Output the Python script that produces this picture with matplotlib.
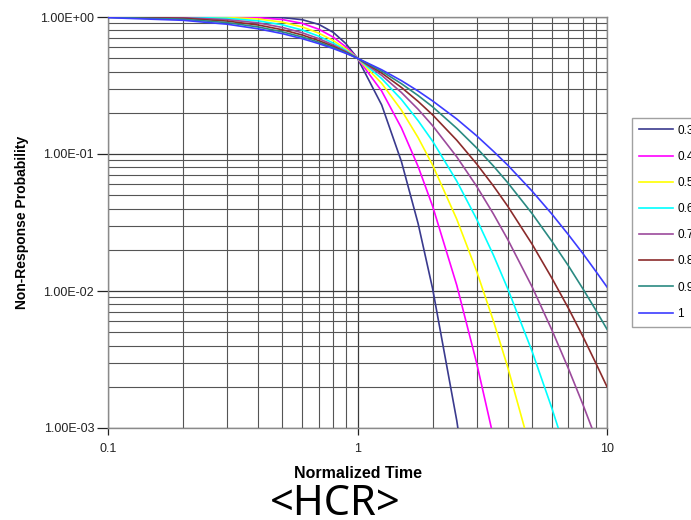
import numpy as np
import matplotlib
matplotlib.use("Agg")
import matplotlib.pyplot as plt
from matplotlib.ticker import FixedLocator, FixedFormatter, NullFormatter

# ---- data ----
t = [0.1, 0.2, 0.3, 0.4, 0.5, 0.6, 0.7, 0.8, 0.9, 1.0, 1.25, 1.5, 1.75,
     2.0, 2.5, 3.0, 3.5, 4.0, 5.0, 6.0, 7.0, 8.0, 9.0, 10.0]
nan = float("nan")
p_03 = [1.0, 1.0, 1.0, 0.999, 0.990, 0.956, 0.883, 0.772, 0.637, 0.5, 0.228, 0.088, 0.031,
        0.0104, 0.00113, 0.00012, nan, nan, nan, nan, nan, nan, nan, nan]
p_04 = [1.0, 1.0, 0.9987, 0.989, 0.958, 0.899, 0.814, 0.712, 0.604, 0.5, 0.288, 0.155, 0.081,
        0.0416, 0.011, 0.0030, 0.00087, 0.00026, nan, nan, nan, nan, nan, nan]
p_05 = [1.0, 0.9994, 0.992, 0.967, 0.917, 0.847, 0.762, 0.672, 0.584, 0.5, 0.328, 0.209, 0.1316,
        0.083, 0.0334, 0.0140, 0.0061, 0.00278, 0.00064, nan, nan, nan, nan, nan]
p_06 = [1.0, 0.996, 0.978, 0.937, 0.876, 0.803, 0.724, 0.645, 0.570, 0.5, 0.355, 0.250, 0.175,
        0.124, 0.0634, 0.0336, 0.0184, 0.0104, 0.00366, 0.00141, 0.00059, nan, nan, nan]
p_07 = [0.9995, 0.989, 0.957, 0.905, 0.839, 0.767, 0.695, 0.625, 0.560, 0.5, 0.375, 0.281, 0.212,
        0.161, 0.0953, 0.0583, 0.0367, 0.0238, 0.0108, 0.00524, 0.00272, 0.00149, 0.00085, 0.0005]
p_08 = [0.998, 0.978, 0.934, 0.874, 0.807, 0.739, 0.672, 0.610, 0.552, 0.5, 0.390, 0.306, 0.242,
        0.193, 0.126, 0.0849, 0.0587, 0.0416, 0.0221, 0.0125, 0.0075, 0.00467, 0.0030, 0.0020]
p_09 = [0.995, 0.963, 0.910, 0.846, 0.779, 0.715, 0.654, 0.598, 0.547, 0.5, 0.402, 0.326, 0.267,
        0.221, 0.154, 0.111, 0.082, 0.0618, 0.0369, 0.0232, 0.0153, 0.0104, 0.0073, 0.00526]
p_10 = [0.989, 0.946, 0.886, 0.820, 0.756, 0.695, 0.639, 0.588, 0.542, 0.5, 0.412, 0.343, 0.288,
        0.244, 0.180, 0.136, 0.105, 0.083, 0.0538, 0.0366, 0.0258, 0.0188, 0.0140, 0.0107]

series = [p_03, p_04, p_05, p_06, p_07, p_08, p_09, p_10]
labels = ["0.3", "0.4", "0.5", "0.6", "0.7", "0.8", "0.9", "1"]
colors = ["#3a3a8e", "#ff00ff", "#ffff00", "#00ffff", "#9c4a9c", "#8b2b2b", "#2a8a82", "#3c3cff"]

y_ticks = [1e-3, 1e-2, 1e-1, 1.0]
y_tick_labels = ["1.00E-03", "1.00E-02", "1.00E-01", "1.00E+00"]
x_ticks = [0.1, 1, 10]
x_tick_labels = ["0.1", "1", "10"]

# ---- figure ----
plt.rcParams["font.family"] = ["Liberation Sans", "DejaVu Sans"]
fig = plt.figure(figsize=(6.91, 5.20), dpi=100)
ax = fig.add_axes([108 / 691, 1 - 428 / 520, (607 - 108) / 691, (428 - 17) / 520])

for vals, lab, col in zip(series, labels, colors):
    ax.plot(t, vals, color=col, lw=1.2, label=lab, zorder=3)

ax.set_xscale("log")
ax.set_yscale("log")
ax.set_xlim(0.1, 10)
ax.set_ylim(1e-3, 1.0)

ax.yaxis.set_major_locator(FixedLocator(y_ticks))
ax.yaxis.set_major_formatter(FixedFormatter(y_tick_labels))
ax.xaxis.set_major_locator(FixedLocator(x_ticks))
ax.xaxis.set_major_formatter(FixedFormatter(x_tick_labels))
ax.yaxis.set_minor_formatter(NullFormatter())
ax.xaxis.set_minor_formatter(NullFormatter())

ax.grid(True, which="major", color="#3a3a3a", lw=0.9, zorder=1)
ax.grid(True, which="minor", color="#555555", lw=0.8, zorder=1)

ax.tick_params(axis="both", which="major", labelsize=9, colors="#222222",
               length=5, width=0.9, direction="out")
ax.tick_params(axis="y", which="major", length=8, pad=2)
ax.tick_params(axis="x", which="major", pad=6)
ax.tick_params(axis="both", which="minor", length=0)
for side in ["left", "bottom", "top", "right"]:
    ax.spines[side].set_color("#8a8a8a")
    ax.spines[side].set_linewidth(1.0)

ax.set_xlabel("Normalized Time", fontsize=11.5, fontweight="bold", labelpad=8)
ax.set_ylabel("Non-Response Probability", fontsize=10, fontweight="bold", labelpad=8)

fig.text(335 / 691, 1 - 515 / 520, "<HCR>", fontsize=30, family=["Noto Sans", "DejaVu Sans"],
         ha="center", va="baseline", color="black")

leg = fig.legend(loc="upper left", bbox_to_anchor=(632 / 691, 1 - 117.5 / 520),
                 bbox_transform=fig.transFigure, borderaxespad=0, fontsize=8.5,
                 frameon=True, fancybox=False, shadow=False, handlelength=2.9,
                 handletextpad=0.35, labelspacing=1.2, borderpad=0.6)
leg.get_frame().set_edgecolor("#8a8a8a")
leg.get_frame().set_linewidth(1.0)

fig.savefig("out.png", dpi=100)
